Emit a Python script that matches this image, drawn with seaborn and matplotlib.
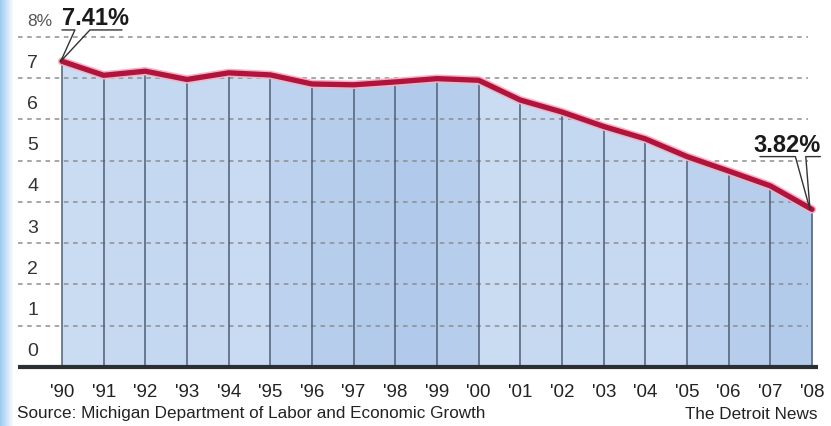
'''
Michigan share of U.S. jobs, 1990-2008 (Detroit News style area chart)
'''
import numpy as np
import matplotlib
matplotlib.use("Agg")
import matplotlib.pyplot as plt
import matplotlib.patheffects as pe
import seaborn as sns
import pandas as pd

# Data
years = ["'90", "'91", "'92", "'93", "'94", "'95", "'96", "'97", "'98", "'99",
         "'00", "'01", "'02", "'03", "'04", "'05", "'06", "'07", "'08"]
share = [7.41, 7.07, 7.17, 6.97, 7.13, 7.08, 6.86, 6.84, 6.91, 6.99,
         6.95, 6.47, 6.18, 5.83, 5.53, 5.10, 4.75, 4.39, 3.82]
y_ticks = [0, 1, 2, 3, 4, 5, 6, 7, 8]
y_tick_labels = ["0", "1", "2", "3", "4", "5", "6", "7", "8%"]
source_text = "Source: Michigan Department of Labor and Economic Growth"
credit_text = "The Detroit News"

df = pd.DataFrame({"pos": np.arange(len(years)), "share": share})

sns.set_style("white")
plt.rcParams["font.family"] = ["Liberation Sans", "DejaVu Sans"]

fig = plt.figure(figsize=(8.31, 4.27), dpi=100)
# axes fill the whole canvas; limits chosen so one year ~41.7px, one point ~41.25px
ax = fig.add_axes([0, 0, 1, 1])
ax.set_xlim(-1.488, 18.455)
ax.set_ylim(-1.43, 8.92)
ax.axis("off")

# light blue strip on the left edge
strip = fig.add_axes([0, 0, 14 / 831, 1])
strip.imshow(np.linspace(0, 1, 50).reshape(1, -1), cmap=matplotlib.colors.LinearSegmentedColormap.from_list(
    "s", ["#9ccbf0", "#ffffff"]), aspect="auto", extent=(0, 1, 0, 1))
strip.axis("off")

# shaded columns under the line (alternating blocks of five years)
light = ["#cadcf2", "#c6d9f1", "#c4d8f1", "#c6d9f1", "#c9dbf2"]
dark = ["#bcd2ee", "#b6cdec", "#b3cbeb", "#b1c9ea", "#b6cdec"]
shades = light + dark + light + dark[:3]
for i in range(len(years) - 1):
    ax.fill_between(df["pos"][i:i + 2], 0, df["share"][i:i + 2],
                    color=shades[i], linewidth=0, zorder=1)

# dashed grid lines
ax.hlines(y_ticks[1:], -1.06, 17.9, colors="#8e8e8e", linestyles=(0, (3, 3)),
          linewidth=1.1, zorder=2)

# vertical column dividers
ax.vlines(df["pos"], 0, df["share"], colors="#4d5d76", linewidth=1.1, zorder=3)

# baseline
ax.hlines(0, -1.06, 18.14, colors="#2a2e35", linewidth=3.0, zorder=4)

# the red line
sns.lineplot(data=df, x="pos", y="share", ax=ax, color="#b0143c", linewidth=3.8,
             zorder=5, path_effects=[pe.Stroke(linewidth=6, foreground="#f3b3c4"), pe.Normal()])

# y labels sit above their grid lines
for t, lab in zip(y_ticks, y_tick_labels):
    ax.text(-0.84, t + 0.39, lab, fontsize=14 if lab != "8%" else 12.5,
            color="#333333" if lab != "8%" else "#555555", ha="left", va="center")

# year labels
for i, lab in enumerate(years):
    ax.text(i, -0.6, lab, fontsize=13.5, color="#222222", ha="center", va="center")

ax.text(-1.07, -1.1, source_text, fontsize=12.3, color="#222222", ha="left", va="center")
ax.text(18.14, -1.12, credit_text, fontsize=12.3, color="#222222", ha="right", va="center")

# callouts for first and last values
ax.text(0.0, 8.48, f"{share[0]:.2f}%", fontsize=17, fontweight="bold",
        color="#1a1a1a", ha="left", va="center")
ax.plot([0.0, 0.31, -0.03], [8.17, 8.17, share[0]], color="#333333", linewidth=1, zorder=6)
ax.plot([-0.03, 0.67, 1.44], [share[0], 8.17, 8.17], color="#333333", linewidth=1, zorder=6)

ax.text(18.2, 5.4, f"{share[-1]:.2f}%", fontsize=17, fontweight="bold",
        color="#1a1a1a", ha="right", va="center")
ax.plot([16.75, 17.6, 17.95], [5.1, 5.1, share[-1]], color="#333333", linewidth=1, zorder=6)
ax.plot([17.95, 17.85, 18.2], [share[-1], 5.1, 5.1], color="#333333", linewidth=1, zorder=6)

fig.savefig("out.png", dpi=100)
